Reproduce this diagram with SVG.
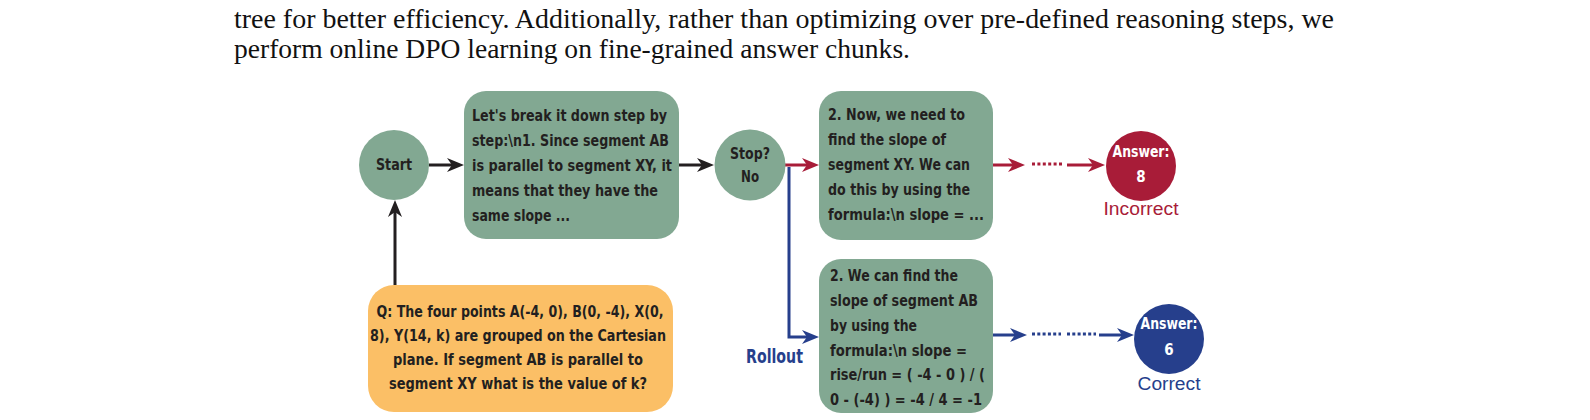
<svg xmlns="http://www.w3.org/2000/svg" width="1590" height="420" viewBox="0 0 1590 420">
<defs>
<style>
.para{font-family:"Liberation Serif","Times New Roman",serif;font-size:27px;fill:#111}
.bx{font-family:"DejaVu Sans Condensed","DejaVu Sans",sans-serif;font-stretch:condensed;font-weight:bold;font-size:16px;fill:#231F20}
.ans{font-family:"DejaVu Sans Condensed","DejaVu Sans",sans-serif;font-stretch:condensed;font-weight:bold;font-size:15px;fill:#fff}
.lbl{font-family:"Liberation Sans",Arial,sans-serif;font-size:18px}
.green{fill:#82A892}
.k{stroke:#231F20;stroke-width:3;fill:none}
.r{stroke:#A81C38;stroke-width:3;fill:none}
.b{stroke:#263F8C;stroke-width:3;fill:none}
</style>
<marker id="ak" markerUnits="userSpaceOnUse" markerWidth="18" markerHeight="16" refX="8" refY="8" orient="auto" viewBox="0 0 18 16"><path d="M0,1 L17,8 L0,15 L5,8 Z" fill="#231F20"/></marker>
<marker id="ar" markerUnits="userSpaceOnUse" markerWidth="18" markerHeight="16" refX="8" refY="8" orient="auto" viewBox="0 0 18 16"><path d="M0,1 L17,8 L0,15 L5,8 Z" fill="#A81C38"/></marker>
<marker id="ab" markerUnits="userSpaceOnUse" markerWidth="18" markerHeight="16" refX="8" refY="8" orient="auto" viewBox="0 0 18 16"><path d="M0,1 L17,8 L0,15 L5,8 Z" fill="#263F8C"/></marker>
</defs>
<rect width="1590" height="420" fill="#fff"/>
<g id="paragraph">
<text class="para" x="234" y="28" textLength="1100" lengthAdjust="spacingAndGlyphs">tree for better efficiency. Additionally, rather than optimizing over pre-defined reasoning steps, we</text>
<text class="para" x="234" y="58" textLength="676" lengthAdjust="spacingAndGlyphs">perform online DPO learning on fine-grained answer chunks.</text>
</g>
<g id="connectors">
<line class="k" x1="429" y1="165" x2="455" y2="165" marker-end="url(#ak)"/>
<line class="k" x1="679" y1="165" x2="705" y2="165" marker-end="url(#ak)"/>
<line class="k" x1="395" y1="285" x2="395" y2="209" marker-end="url(#ak)"/>
<line class="r" x1="784" y1="165" x2="810" y2="165" marker-end="url(#ar)"/>
<line class="r" x1="993" y1="165" x2="1016" y2="165" marker-end="url(#ar)"/>
<line class="r" x1="1032" y1="164" x2="1062" y2="164" stroke-dasharray="3 2.4"/>
<line class="r" x1="1067" y1="165" x2="1096" y2="165" marker-end="url(#ar)"/>
<path class="b" d="M789,167 V337 H810" marker-end="url(#ab)"/>
<line class="b" x1="993" y1="335" x2="1018" y2="335" marker-end="url(#ab)"/>
<line class="b" x1="1032" y1="334" x2="1061" y2="334" stroke-dasharray="3 2.3"/>
<line class="b" x1="1067" y1="334" x2="1096" y2="334" stroke-dasharray="3 2.3"/>
<line class="b" x1="1099" y1="335" x2="1125" y2="335" marker-end="url(#ab)"/>
</g>
<g id="start">
<circle class="green" cx="394" cy="165" r="35"/>
<text class="bx" x="394" y="170" text-anchor="middle" textLength="36" lengthAdjust="spacingAndGlyphs">Start</text>
</g>
<g id="step1">
<rect class="green" x="464" y="91" width="215" height="148" rx="22"/>
<text class="bx" x="472" y="121" textLength="195" lengthAdjust="spacingAndGlyphs">Let's break it down step by</text>
<text class="bx" x="472" y="146" textLength="197" lengthAdjust="spacingAndGlyphs">step:\n1. Since segment AB</text>
<text class="bx" x="472" y="171" textLength="200" lengthAdjust="spacingAndGlyphs">is parallel to segment XY, it</text>
<text class="bx" x="472" y="196" textLength="186" lengthAdjust="spacingAndGlyphs">means that they have the</text>
<text class="bx" x="472" y="221" textLength="98" lengthAdjust="spacingAndGlyphs">same slope ...</text>
</g>
<g id="stop">
<circle class="green" cx="750" cy="165" r="35.5"/>
<text class="bx" x="750" y="159" text-anchor="middle" textLength="40" lengthAdjust="spacingAndGlyphs">Stop?</text>
<text class="bx" x="750" y="182" text-anchor="middle" textLength="18" lengthAdjust="spacingAndGlyphs">No</text>
</g>
<g id="step2a">
<rect class="green" x="819" y="91" width="174" height="149" rx="22"/>
<text class="bx" x="828" y="120" textLength="137" lengthAdjust="spacingAndGlyphs">2. Now, we need to</text>
<text class="bx" x="828" y="145" textLength="118" lengthAdjust="spacingAndGlyphs">find the slope of</text>
<text class="bx" x="828" y="170" textLength="142" lengthAdjust="spacingAndGlyphs">segment XY. We can</text>
<text class="bx" x="828" y="195" textLength="142" lengthAdjust="spacingAndGlyphs">do this by using the</text>
<text class="bx" x="828" y="220" textLength="156" lengthAdjust="spacingAndGlyphs">formula:\n slope = ...</text>
</g>
<g id="step2b">
<rect class="green" x="819" y="259" width="174" height="154" rx="22"/>
<text class="bx" x="830" y="281" textLength="128" lengthAdjust="spacingAndGlyphs">2. We can find the</text>
<text class="bx" x="830" y="306" textLength="148" lengthAdjust="spacingAndGlyphs">slope of segment AB</text>
<text class="bx" x="830" y="331" textLength="87" lengthAdjust="spacingAndGlyphs">by using the</text>
<text class="bx" x="830" y="356" textLength="137" lengthAdjust="spacingAndGlyphs">formula:\n slope =</text>
<text class="bx" x="830" y="380" textLength="155" lengthAdjust="spacingAndGlyphs">rise/run = ( -4 - 0 ) / (</text>
<text class="bx" x="830" y="405" textLength="152" lengthAdjust="spacingAndGlyphs">0 - (-4) ) = -4 / 4 = -1</text>
</g>
<g id="rollout">
<text class="bx" x="746" y="363" style="fill:#263F8C;font-size:19px" textLength="57" lengthAdjust="spacingAndGlyphs">Rollout</text>
</g>
<g id="question">
<rect x="368" y="285" width="305" height="127" rx="26" fill="#FBBF66"/>
<text class="bx" x="520" y="317" text-anchor="middle" textLength="287" lengthAdjust="spacingAndGlyphs">Q: The four points A(-4, 0), B(0, -4), X(0,</text>
<text class="bx" x="518" y="341" text-anchor="middle" textLength="296" lengthAdjust="spacingAndGlyphs">8), Y(14, k) are grouped on the Cartesian</text>
<text class="bx" x="518" y="365" text-anchor="middle" textLength="250" lengthAdjust="spacingAndGlyphs">plane. If segment AB is parallel to</text>
<text class="bx" x="518" y="389" text-anchor="middle" textLength="258" lengthAdjust="spacingAndGlyphs">segment XY what is the value of k?</text>
</g>
<g id="answer8">
<circle cx="1141" cy="166" r="35" fill="#A81C38"/>
<text class="ans" x="1141" y="157" text-anchor="middle" textLength="57" lengthAdjust="spacingAndGlyphs">Answer:</text>
<text class="ans" x="1141" y="182" text-anchor="middle">8</text>
<text class="lbl" x="1141" y="215" text-anchor="middle" fill="#A81C38" textLength="75" lengthAdjust="spacingAndGlyphs">Incorrect</text>
</g>
<g id="answer6">
<circle cx="1169" cy="339" r="35" fill="#263F8C"/>
<text class="ans" x="1169" y="329" text-anchor="middle" textLength="57" lengthAdjust="spacingAndGlyphs">Answer:</text>
<text class="ans" x="1169" y="355" text-anchor="middle">6</text>
<text class="lbl" x="1169" y="390" text-anchor="middle" fill="#263F8C" textLength="63" lengthAdjust="spacingAndGlyphs">Correct</text>
</g>
</svg>
